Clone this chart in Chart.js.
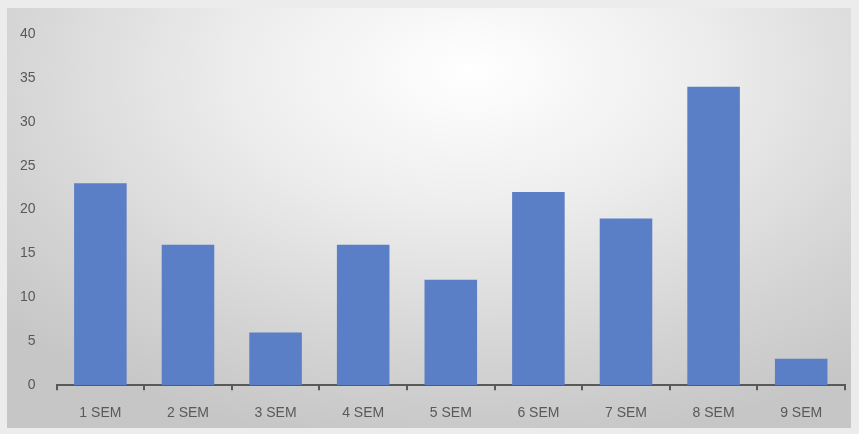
<!DOCTYPE html>
<html>
<head>
<meta charset="utf-8">
<script src="https://cdn.jsdelivr.net/npm/chart.js@4"></script>
<style>
  body { margin: 0; background: #ececec; }
  #wrap {
    position: absolute; left: 7px; top: 8px; width: 844px; height: 420px;
    background: radial-gradient(ellipse 75% 90% at 55% 15%, #ffffff 0%, #eeeeee 35%, #d4d4d4 75%, #c6c6c6 100%);
  }
</style>
</head>
<body>
<div id="wrap"><canvas id="semChart"></canvas></div>
<script>
  const semesters = ['1 SEM', '2 SEM', '3 SEM', '4 SEM', '5 SEM', '6 SEM', '7 SEM', '8 SEM', '9 SEM'];
  const counts = [23, 16, 6, 16, 12, 22, 19, 34, 3];
  const yMax = 40;
  const yStep = 5;

  const ctx = document.getElementById('semChart');
  new Chart(ctx, {
    type: 'bar',
    data: {
      labels: semesters,
      datasets: [{
        data: counts,
        backgroundColor: '#5b7fc6',
        barPercentage: 0.6,
        categoryPercentage: 1
      }]
    },
    options: {
      responsive: true,
      maintainAspectRatio: false,
      animation: false,
      layout: { padding: { left: 0, right: 6, top: 26, bottom: -9 } },
      plugins: {
        legend: { display: false },
        tooltip: { enabled: false }
      },
      scales: {
        x: {
          border: { color: '#595959', width: 2 },
          grid: { display: true, drawOnChartArea: false, color: '#595959', lineWidth: 2, tickLength: 5, offset: true },
          ticks: { color: '#595959', font: { family: 'Liberation Sans', size: 14 }, padding: 15 }
        },
        y: {
          min: 0,
          max: yMax,
          border: { display: false },
          grid: { display: false },
          ticks: { stepSize: yStep, color: '#595959', font: { family: 'Liberation Sans', size: 14 }, padding: 13 }
        }
      }
    }
  });
</script>
</body>
</html>
